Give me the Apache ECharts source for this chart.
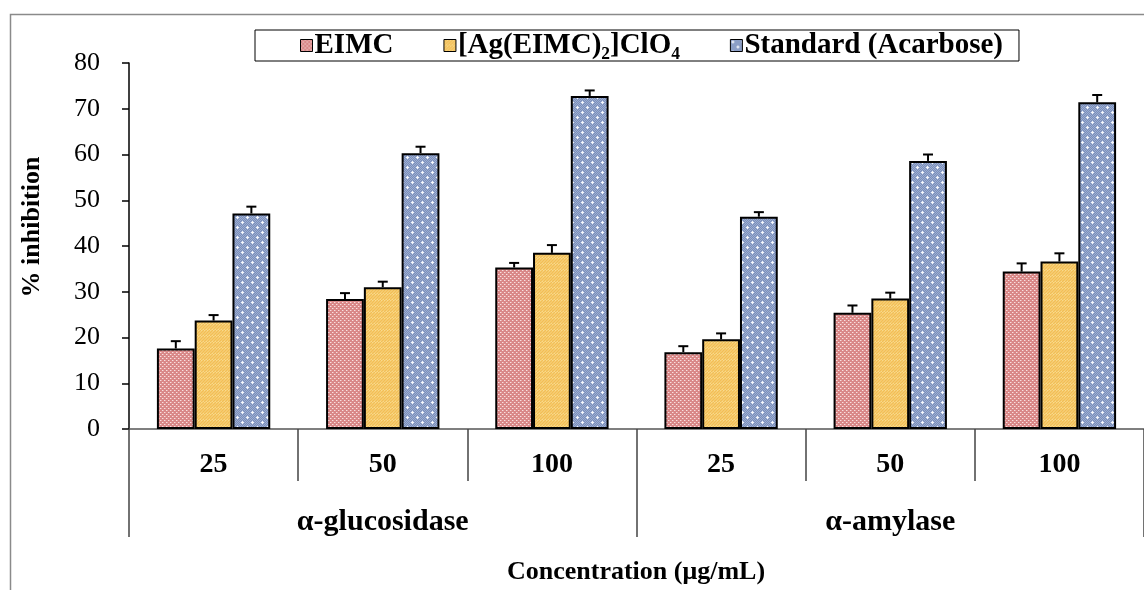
<!DOCTYPE html>
<html>
<head>
<meta charset="utf-8">
<script src="https://cdn.jsdelivr.net/npm/echarts@6/dist/echarts.min.js"></script>
<style>
  html, body { margin: 0; padding: 0; background: #fff; }
  #chart { width: 1144px; height: 590px; }
</style>
</head>
<body>
<div id="chart"></div>
<script>
// Concentration levels (µg/mL) for each enzyme assay
const concentrations = ['25', '50', '100', '25', '50', '100'];
const enzymes = ['α-glucosidase', 'α-amylase'];
const seriesNames = ['EIMC', '[Ag(EIMC)₂]ClO₄', 'Standard (Acarbose)'];

// % inhibition (mean) and standard deviation per concentration
const eimcValues = [17.6, 28.4, 35.3, 16.8, 25.4, 34.4];
const eimcErrors = [1.6, 1.3, 1.0, 1.3, 1.6, 1.8];
const agValues = [23.7, 31.0, 38.5, 19.6, 28.5, 36.6];
const agErrors = [1.2, 1.2, 1.7, 1.3, 1.3, 1.8];
const stdValues = [47.1, 60.3, 72.8, 46.4, 58.6, 71.4];
const stdErrors = [1.5, 1.4, 1.2, 1.0, 1.4, 1.6];

const yTicks = { min: 0, max: 80, interval: 10 };

const FONT = '"Liberation Serif", "Times New Roman", "DejaVu Serif", serif';
const CATEGORY_GAP = 0.33;

// Fill patterns for the bars
function makePattern(size, draw) {
  const c = document.createElement('canvas');
  c.width = size; c.height = size;
  const ctx = c.getContext('2d');
  draw(ctx, size);
  return { image: c, repeat: 'repeat' };
}

const pinkPattern = makePattern(4, (ctx) => {
  ctx.fillStyle = '#d98888';
  ctx.fillRect(0, 0, 4, 4);
  ctx.fillStyle = '#f8e0e0';
  ctx.fillRect(0, 0, 1, 1);
  ctx.fillRect(2, 2, 1, 1);
  ctx.fillStyle = '#e8aeae';
  ctx.fillRect(1, 0, 1, 1);
  ctx.fillRect(3, 2, 1, 1);
});

const yellowPattern = makePattern(6, (ctx, s) => {
  ctx.fillStyle = '#fde7a8';
  ctx.fillRect(0, 0, s, s);
  ctx.strokeStyle = '#f2be55';
  ctx.lineWidth = 1.6;
  for (let k = -s; k <= 2 * s; k += 3) {
    ctx.beginPath();
    ctx.moveTo(k, s);
    ctx.lineTo(k + s, 0);
    ctx.stroke();
  }
});

const bluePattern = makePattern(10, (ctx) => {
  ctx.fillStyle = '#7b8fba';
  ctx.fillRect(0, 0, 10, 10);
  ctx.fillStyle = '#9cadd2';
  for (let y = 0; y < 10; y++) {
    for (let x = (y % 2); x < 10; x += 2) ctx.fillRect(x, y, 1, 1);
  }
  ctx.fillStyle = '#f4f6fb';
  ctx.fillRect(2, 1, 1, 3);
  ctx.fillRect(1, 2, 3, 1);
  ctx.fillRect(7, 6, 1, 3);
  ctx.fillRect(6, 7, 3, 1);
});

const chart = echarts.init(document.getElementById('chart'), null, { renderer: 'canvas' });

const seriesData = [
  { name: seriesNames[0], values: eimcValues, errors: eimcErrors, fill: pinkPattern },
  { name: seriesNames[1], values: agValues, errors: agErrors, fill: yellowPattern },
  { name: seriesNames[2], values: stdValues, errors: stdErrors, fill: bluePattern }
];

const barSeries = seriesData.map((s) => ({
  name: s.name,
  type: 'bar',
  xAxisIndex: 0,
  yAxisIndex: 0,
  data: s.values,
  barGap: '0%',
  barCategoryGap: (CATEGORY_GAP * 100) + '%',
  itemStyle: { color: s.fill, borderColor: '#000', borderWidth: 2 },
  emphasis: { disabled: true },
  z: 2
}));

// Upward error bars drawn over each bar
const errorSeries = seriesData.map((s, idx) => ({
  type: 'custom',
  xAxisIndex: 0,
  yAxisIndex: 0,
  data: s.values.map((v, i) => [i, v, v + s.errors[i]]),
  z: 3,
  silent: true,
  renderItem: function (params, api) {
    const cat = api.value(0);
    const base = api.coord([cat, api.value(1)]);
    const top = api.coord([cat, api.value(2)]);
    const band = api.size([1, 0])[0];
    const barW = band * (1 - CATEGORY_GAP) / seriesData.length;
    const x = base[0] + (idx - (seriesData.length - 1) / 2) * barW;
    const half = 5;
    const style = { stroke: '#000', lineWidth: 2 };
    return {
      type: 'group',
      children: [
        { type: 'line', shape: { x1: x, y1: base[1], x2: x, y2: top[1] }, style: style },
        { type: 'line', shape: { x1: x - half, y1: top[1], x2: x + half, y2: top[1] }, style: style }
      ]
    };
  }
}));

chart.setOption({
  animation: false,
  backgroundColor: '#fff',
  textStyle: { fontFamily: FONT },
  grid: { left: 129, right: -1, top: 63, bottom: 161, containLabel: false },
  legend: {
    data: seriesNames,
    left: 255,
    top: 30,
    padding: [1, 16, 1, 45],
    itemGap: 50,
    itemWidth: 12,
    itemHeight: 12,
    icon: 'rect',
    borderColor: '#000',
    borderWidth: 1,
    backgroundColor: '#fff',
    itemStyle: { borderColor: '#000', borderWidth: 1 },
    textStyle: { fontFamily: FONT, fontWeight: 'bold', fontSize: 29, color: '#000', padding: [0, 0, 0, -3] }
  },
  xAxis: [
    {
      type: 'category',
      data: concentrations,
      position: 'bottom',
      axisLine: { show: true, lineStyle: { color: '#555', width: 1.5 } },
      axisTick: { show: true, alignWithLabel: false, interval: 0, length: 52, lineStyle: { color: '#444', width: 1.5 } },
      axisLabel: { interval: 0, margin: 22, fontFamily: FONT, fontWeight: 'bold', fontSize: 28, color: '#000' },
      splitLine: { show: false }
    },
    {
      type: 'category',
      data: enzymes,
      position: 'bottom',
      axisLine: { show: false },
      axisTick: { show: true, interval: 0, length: 108, lineStyle: { color: '#444', width: 1.5 } },
      axisLabel: { interval: 0, margin: 78, fontFamily: FONT, fontWeight: 'bold', fontSize: 30, color: '#000' },
      splitLine: { show: false }
    }
  ],
  yAxis: {
    type: 'value',
    min: yTicks.min,
    max: yTicks.max,
    interval: yTicks.interval,
    axisLine: { show: true, lineStyle: { color: '#000', width: 1.5 } },
    axisTick: { show: true, inside: false, length: 7, lineStyle: { color: '#000', width: 1.5 } },
    axisLabel: { margin: 29, fontFamily: FONT, fontSize: 26, color: '#000' },
    splitLine: { show: false }
  },
  graphic: [
    {
      type: 'rect',
      shape: { x: 10.5, y: 14.5, width: 1300, height: 800 },
      style: { fill: 'none', stroke: '#8a8a8a', lineWidth: 1.5 },
      silent: true,
      z: -1
    },
    {
      type: 'text',
      x: 32, y: 227,
      rotation: Math.PI / 2,
      style: {
        text: '% inhibition',
        font: 'bold 26px ' + FONT,
        fill: '#000',
        align: 'center',
        verticalAlign: 'middle'
      }
    },
    {
      type: 'text',
      x: 636, y: 572,
      style: {
        text: 'Concentration (μg/mL)',
        font: 'bold 26px ' + FONT,
        fill: '#000',
        align: 'center',
        verticalAlign: 'middle'
      }
    }
  ],
  series: barSeries.concat(errorSeries)
});
</script>
</body>
</html>
